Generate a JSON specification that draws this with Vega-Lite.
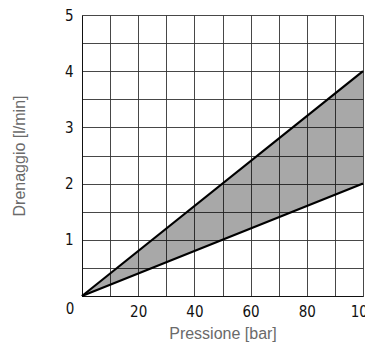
{
  "$schema": "https://vega.github.io/schema/vega-lite/v6.json",
  "autosize": {"type": "none"},
  "width": 281,
  "height": 281,
  "padding": {"left": 82, "top": 15, "right": 2, "bottom": 49},
  "background": "white",
  "config": {
    "view": {"stroke": null},
    "axis": {
      "labelFont": "DejaVu Sans Condensed",
      "labelFontSize": 15,
      "labelColor": "#111",
      "titleFont": "Liberation Sans",
      "titleFontSize": 16,
      "titleFontWeight": "normal",
      "titleColor": "#6a6a6a",
      "gridColor": "#333",
      "gridWidth": 1,
      "gridOpacity": 0.9,
      "domainColor": "#111",
      "domainWidth": 1,
      "ticks": false
    }
  },
  "datasets": {
    "band": [
      {"p": 0, "q": 0, "q2": 0, "t": "0"},
      {"p": 100, "q": 2, "q2": 4, "t": ""}
    ],
    "curves": [
      {"p": 0, "q": 0, "s": "max"},
      {"p": 100, "q": 4, "s": "max"},
      {"p": 0, "q": 0, "s": "min"},
      {"p": 100, "q": 2, "s": "min"}
    ]
  },
  "encoding": {
    "x": {
      "field": "p", "type": "quantitative",
      "scale": {"domain": [0, 100], "nice": false},
      "axis": {
        "values": [0, 10, 20, 30, 40, 50, 60, 70, 80, 90, 100],
        "format": "d",
        "labelExpr": "datum.value % 20 == 0 && datum.value > 0 ? datum.label : ''",
        "labelPadding": 8,
        "labelFlush": false,
        "labelOverlap": false,
        "title": "Pressione [bar]",
        "titleBaseline": "alphabetic",
        "titleY": 42
      }
    },
    "y": {
      "field": "q", "type": "quantitative",
      "scale": {"domain": [0, 5], "nice": false},
      "axis": {
        "values": [0, 0.5, 1, 1.5, 2, 2.5, 3, 3.5, 4, 4.5, 5],
        "labelExpr": "datum.value % 1 == 0 && datum.value > 0 ? format(datum.value, 'd') : ''",
        "labelPadding": 9,
        "labelFlush": false,
        "labelOverlap": false,
        "title": "Drenaggio [l/min]",
        "titleBaseline": "middle",
        "titleX": -63
      }
    }
  },
  "layer": [
    {
      "data": {"name": "band"},
      "mark": {"type": "area", "color": "#000", "fillOpacity": 0.34},
      "encoding": {
        "y2": {"field": "q2"}
      }
    },
    {
      "data": {"name": "curves"},
      "mark": {"type": "line", "color": "#000", "strokeWidth": 2.2},
      "encoding": {
        "detail": {"field": "s", "type": "nominal"}
      }
    },
    {
      "data": {"name": "band"},
      "mark": {"type": "text", "font": "DejaVu Sans Condensed", "fontSize": 15, "color": "#111", "dx": -12, "dy": 13, "align": "center", "baseline": "middle"},
      "encoding": {
        "text": {"field": "t"}
      }
    }
  ]
}
